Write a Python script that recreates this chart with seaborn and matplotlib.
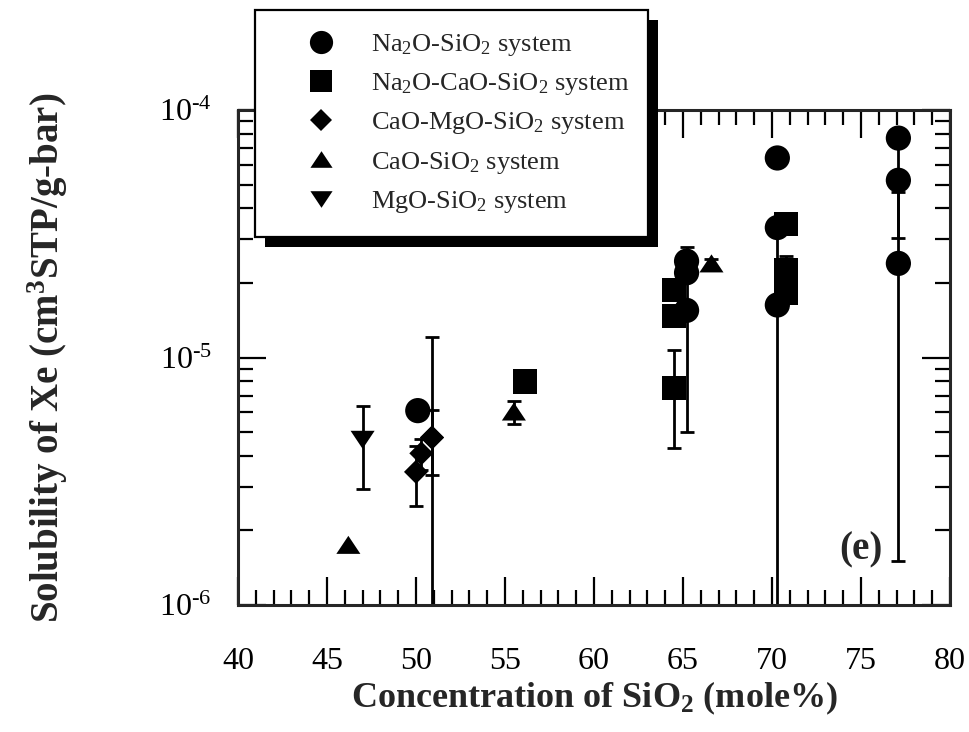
import numpy as np
import pandas as pd
import matplotlib
matplotlib.use("Agg")
import matplotlib.pyplot as plt
from matplotlib.lines import Line2D
from matplotlib.patches import Rectangle
from matplotlib.ticker import LogLocator, MultipleLocator, NullFormatter, FuncFormatter
import seaborn as sns

sns.set_style("ticks")
plt.rcParams.update({
    "font.family": ["Liberation Serif", "DejaVu Serif"],
    "mathtext.fontset": "custom",
    "mathtext.rm": "Liberation Serif",
    "mathtext.it": "Liberation Serif:italic",
    "mathtext.bf": "Liberation Serif:bold",
    "mathtext.default": "regular",
    "axes.unicode_minus": False,
    "axes.linewidth": 2.2,
})

# ---- solubility data (SiO2 mole%, Xe solubility, 1-sigma error) ----
na2o_x = [50.1, 65.2, 65.2, 65.2, 70.3, 70.3, 70.3, 77.1, 77.1, 77.1]
na2o_y = [6.1e-6, 2.45e-5, 2.2e-5, 1.55e-5, 6.4e-5, 3.35e-5, 1.63e-5, 7.7e-5, 5.2e-5, 2.4e-5]
na2o_e = [0, 0.35e-5, 0, 1.05e-5, 0, 0, 1.6e-5, 0, 2.15e-5, 2.25e-5]

naca_x = [56.1, 64.5, 64.5, 64.5, 70.8, 70.8, 70.8]
naca_y = [8.0e-6, 1.87e-5, 1.47e-5, 7.5e-6, 3.45e-5, 2.25e-5, 1.82e-5]
naca_e = [0, 0, 0, 3.2e-6, 0, 3.3e-6, 0]

camg_x = [50.0, 50.3, 50.9, 50.9]
camg_y = [3.45e-6, 4.1e-6, 4.75e-6, 4.75e-6]
camg_e = [0.94e-6, 0.6e-6, 1.4e-6, 7.3e-6]

cao_x = [46.2, 55.5, 66.6]
cao_y = [1.75e-6, 6.05e-6, 2.4e-5]
cao_e = [0, 0.65e-6, 0.1e-5]

mgo_x = [47.0]
mgo_y = [4.65e-6]
mgo_e = [1.7e-6]

systems = [
    "Na$_2$O-SiO$_2$ system",
    "Na$_2$O-CaO-SiO$_2$ system",
    "CaO-MgO-SiO$_2$ system",
    "CaO-SiO$_2$ system",
    "MgO-SiO$_2$ system",
]
xs = [na2o_x, naca_x, camg_x, cao_x, mgo_x]
ys = [na2o_y, naca_y, camg_y, cao_y, mgo_y]
es = [na2o_e, naca_e, camg_e, cao_e, mgo_e]

df = pd.concat(
    [pd.DataFrame({"sio2": x, "xe": y, "err": e, "system": s})
     for s, x, y, e in zip(systems, xs, ys, es)],
    ignore_index=True,
)

tri_up = [(-1, -0.75), (1, -0.75), (0, 0.75)]
tri_dn = [(-1, 0.75), (1, 0.75), (0, -0.75)]
marker_map = dict(zip(systems, ["o", "s", "D", tri_up, tri_dn]))
size_map = dict(zip(systems, [330, 300, 150, 300, 300]))

fig = plt.figure(figsize=(9.7, 7.32), dpi=100)
ax = fig.add_axes([238 / 970, 1 - 605 / 732, (950 - 238) / 970, (605 - 110) / 732])

# error bars first so the symbols sit on top
for s, grp in df.groupby("system", sort=False):
    g = grp[grp["err"] > 0]
    if len(g):
        ax.errorbar(g["sio2"], g["xe"], yerr=g["err"], fmt="none", ecolor="black",
                    elinewidth=2.0, capsize=4.8, capthick=2.0, zorder=2)

sns.scatterplot(data=df, x="sio2", y="xe", style="system", markers=marker_map,
                size="system", sizes=size_map, color="black", edgecolor="none",
                linewidth=0, legend=False, ax=ax, zorder=3)


def decade_label(v, pos):
    e = int(round(np.log10(v)))
    if e < 0:
        return r"10$^{\text{-}%d}$" % (-e)
    return r"10$^{%d}$" % e


ax.set_yscale("log")
ax.set_xlim(40, 80)
ax.set_ylim(1e-6, 1e-4)
ax.xaxis.set_major_locator(MultipleLocator(5))
ax.xaxis.set_minor_locator(MultipleLocator(1))
ax.yaxis.set_major_locator(LogLocator(base=10, numticks=10))
ax.yaxis.set_major_formatter(FuncFormatter(decade_label))
ax.yaxis.set_minor_locator(LogLocator(base=10, subs=np.arange(2, 10), numticks=20))
ax.yaxis.set_minor_formatter(NullFormatter())
ax.tick_params(which="both", direction="in", top=True, right=True,
               labelsize=23, pad=19, colors="black")
ax.tick_params(which="major", length=20, width=1.6)
ax.tick_params(which="minor", length=11, width=1.6)
ax.tick_params(axis="x", which="major", pad=30)

ax.set_xlabel("Concentration of SiO$_2$ (mole%)", fontsize=26, fontweight="bold",
              labelpad=3)
ax.set_ylabel("Solubility of Xe (cm$^3$STP/g-bar)", fontsize=28, fontweight="bold",
              labelpad=64)

ax.text(0.875, 0.111, "(e)", transform=ax.transAxes, fontsize=28,
        fontweight="bold", ha="center", va="center")

# framed legend with a solid drop shadow
W, H = 970, 732
fig.add_artist(Rectangle((265 / W, 1 - 247 / H), 393 / W, 227 / H,
                         transform=fig.transFigure, facecolor="black",
                         edgecolor="none", zorder=4))
fig.add_artist(Rectangle((255 / W, 1 - 237 / H), 393 / W, 227 / H,
                         transform=fig.transFigure, facecolor="white",
                         edgecolor="black", linewidth=1.6, zorder=4.5))

handles = [Line2D([], [], linestyle="none", marker=marker_map[s], color="black",
                  markersize=np.sqrt(size_map[s]) * 0.92, markeredgewidth=0)
           for s in systems]
fig.legend(handles, systems, loc="upper left",
           bbox_to_anchor=(304 / W, 1 - 32 / H), frameon=False, fontsize=19,
           handlelength=1.3, handletextpad=1.25, labelspacing=0.5,
           borderpad=0, borderaxespad=0)

fig.savefig("out.png", dpi=100)
